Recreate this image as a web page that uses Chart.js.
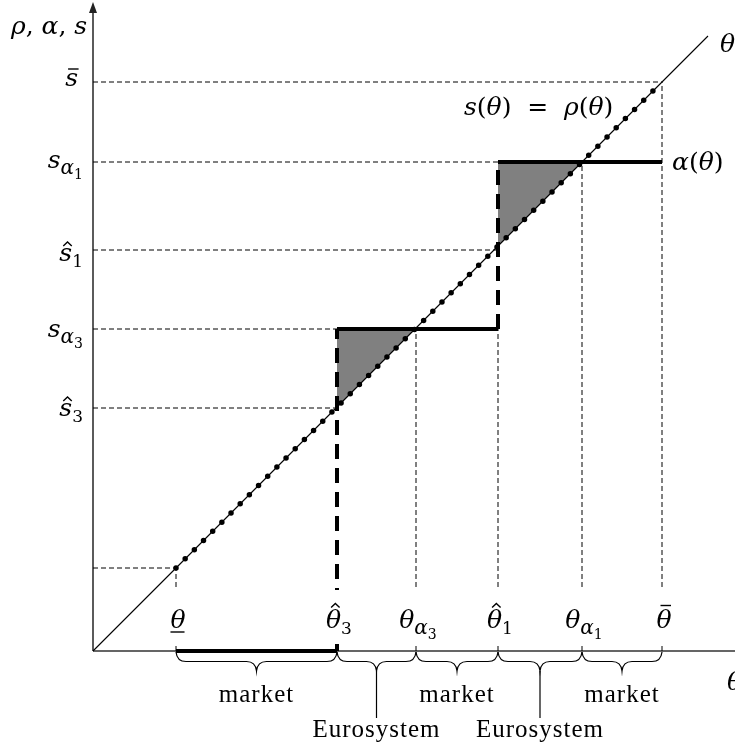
<!DOCTYPE html>
<html>
<head>
<meta charset="utf-8">
<script src="https://cdn.jsdelivr.net/npm/chart.js@4.4.0/dist/chart.umd.min.js"></script>
<style>
html, body { margin: 0; padding: 0; background: #fff; }
canvas { display: block; }
</style>
</head>
<body>
<canvas id="chart" width="735" height="749"></canvas>
<script>
// key points on the theta axis (s and theta share units, 45 degree line)
var thetaTicks = [{b: "θ", m: "under"}, {b: "θ", m: "hat", s: "3"}, {b: "θ", s: "α", ss: "3"},
                  {b: "θ", m: "hat", s: "1"}, {b: "θ", s: "α", ss: "1"}, {b: "θ", m: "bar"}];
var thetaValues = [83, 244, 323, 405, 489, 569];

// levels on the rho / alpha / s axis
var sTicks = [{b: "s", m: "bar"}, {b: "s", s: "α", ss: "1"}, {b: "s", m: "hat", s: "1"},
              {b: "s", s: "α", ss: "3"}, {b: "s", m: "hat", s: "3"}];
var sValues = [569, 489, 401, 322, 243];

// alpha(theta) step function
var alphaX = [83, 244, 244, 405, 405, 569];
var alphaY = [0, 0, 322, 322, 489, 489];

// s(theta) = rho(theta) dotted part and the 45 degree line
var dottedX = [83, 569];
var diagX = [0, 615];

// shaded triangles: from theta-hat up to s_alpha
var shadeFrom = [244, 405];
var shadeTo = [322, 489];

// dashed guides
var hGuideY = [569, 489, 401, 322, 243, 83];
var hGuideEnd = [569, 405, 405, 244, 244, 83];
var vGuideX = [83, 323, 405, 489, 569];
var vGuideTop = [83, 322, 322, 489, 569];

// regions under the theta axis
var regionNames = ["market", "Eurosystem", "market", "Eurosystem", "market"];

var xMax = 642, yMax = 646;
var F = "'Liberation Serif', serif";
var FM = "'DejaVu Serif', serif";
var MATH = 25;

function pts(xs, ys) {
  return xs.map(function (x, i) { return {x: x, y: ys[i]}; });
}

// draw a symbol like theta-hat_3 or s_alpha_1
function drawSym(ctx, sym, x, y, align, box) {
  var fBase = "italic " + MATH + "px " + FM;
  var fSubA = "italic " + Math.round(MATH * 0.78) + "px " + FM;
  var fSubD = Math.round(MATH * 0.68) + "px " + FM;
  var fSS = Math.round(MATH * 0.58) + "px " + FM;
  ctx.font = fBase;
  var wb = ctx.measureText(sym.b).width;
  var ws = 0, wss = 0, subFont = null;
  if (sym.s) { subFont = sym.s === "α" ? fSubA : fSubD; ctx.font = subFont; ws = ctx.measureText(sym.s).width; }
  if (sym.ss) { ctx.font = fSS; wss = ctx.measureText(sym.ss).width; }
  var w = wb + ws + wss;
  var sx = align === "center" ? x - w / 2 : (align === "right" ? x - w : x);
  if (box) {
    ctx.fillStyle = "#fff";
    ctx.fillRect(sx - 3, box[0], w + 6, box[1] - box[0]);
  }
  ctx.fillStyle = "#000";
  ctx.textAlign = "left";
  ctx.textBaseline = "alphabetic";
  ctx.font = fBase;
  ctx.fillText(sym.b, sx, y);
  if (sym.s) { ctx.font = subFont; ctx.fillText(sym.s, sx + wb, y + MATH * 0.24); }
  if (sym.ss) { ctx.font = fSS; ctx.fillText(sym.ss, sx + wb + ws, y + MATH * 0.44); }
  var cx = sx + wb / 2 + MATH * 0.07;
  var top = sym.b === "θ" ? y - MATH * 0.78 : y - MATH * 0.56;
  var hw = MATH * 0.17;
  ctx.strokeStyle = "#000";
  ctx.lineWidth = 1.4;
  ctx.beginPath();
  if (sym.m === "hat") {
    ctx.moveTo(cx - hw, top - 1);
    ctx.lineTo(cx, top - 5);
    ctx.lineTo(cx + hw, top - 1);
  } else if (sym.m === "bar") {
    ctx.moveTo(cx - hw - 1, top - 3);
    ctx.lineTo(cx + hw + 1, top - 3);
  } else if (sym.m === "under") {
    ctx.moveTo(sx, y + 4);
    ctx.lineTo(sx + wb - 1, y + 4);
  }
  ctx.stroke();
}

// text with mixed italic / upright parts
function drawRun(ctx, parts, x, y) {
  ctx.fillStyle = "#000";
  ctx.textAlign = "left";
  ctx.textBaseline = "alphabetic";
  parts.forEach(function (p) {
    ctx.font = (p[1] ? "italic " : "") + MATH + "px " + FM;
    ctx.fillText(p[0], x, y);
    x += ctx.measureText(p[0]).width;
  });
}

function drawBrace(ctx, x1, x2, y, h) {
  var mid = (x1 + x2) / 2, q = h / 2, r = Math.min(10, (x2 - x1) / 4);
  ctx.beginPath();
  ctx.moveTo(x1, y);
  ctx.quadraticCurveTo(x1 + 1, y + q, x1 + r, y + q);
  ctx.lineTo(mid - r, y + q);
  ctx.quadraticCurveTo(mid - 1, y + q, mid, y + h);
  ctx.quadraticCurveTo(mid + 1, y + q, mid + r, y + q);
  ctx.lineTo(x2 - r, y + q);
  ctx.quadraticCurveTo(x2 - 1, y + q, x2, y);
  ctx.stroke();
}

var axesPlugin = {
  id: "axesPlugin",
  beforeDatasetsDraw: function (chart) {
    var ctx = chart.ctx, xs = chart.scales.x, ys = chart.scales.y;
    var x0 = xs.getPixelForValue(0), y0 = ys.getPixelForValue(0);
    ctx.save();
    ctx.strokeStyle = "#333";
    ctx.lineWidth = 1.6;
    ctx.beginPath();
    ctx.moveTo(x0, y0); ctx.lineTo(x0, 10);
    ctx.moveTo(x0, y0); ctx.lineTo(735, y0);
    ctx.stroke();
    ctx.fillStyle = "#222";
    ctx.beginPath();
    ctx.moveTo(x0, 2); ctx.lineTo(x0 - 4, 13); ctx.lineTo(x0 + 4, 13);
    ctx.closePath();
    ctx.fill();
    ctx.restore();
  },
  afterDatasetsDraw: function (chart) {
    var ctx = chart.ctx, xs = chart.scales.x, ys = chart.scales.y;
    var y0 = ys.getPixelForValue(0);
    ctx.save();

    // theta labels above the axis
    thetaTicks.forEach(function (t, i) {
      drawSym(ctx, t, xs.getPixelForValue(thetaValues[i]) + 2, 628, "center", [590, 644]);
    });

    // s labels left of the axis
    var sDy = [4, 6, 11, 8, 8];
    sTicks.forEach(function (t, i) {
      drawSym(ctx, t, t.m === "bar" ? 78 : 83, ys.getPixelForValue(sValues[i]) + sDy[i], "right");
    });

    // axis titles and curve labels
    drawRun(ctx, [["ρ", true], [",", false], [" α", true], [",", false], [" s", true]], 11, 34);
    drawRun(ctx, [["s", true], ["(", false], ["θ", true], [")", false], ["  =  ", false],
                  ["ρ", true], ["(", false], ["θ", true], [")", false]], 464, 115);
    drawRun(ctx, [["α", true], ["(", false], ["θ", true], [")", false]], 672, 170);
    drawRun(ctx, [["θ", true]], 720, 52);
    drawRun(ctx, [["θ", true]], 727, 690);

    // braces and region names
    ctx.strokeStyle = "#000";
    ctx.lineWidth = 1.2;
    ctx.fillStyle = "#000";
    ctx.textAlign = "center";
    ctx.textBaseline = "alphabetic";
    if ("letterSpacing" in ctx) ctx.letterSpacing = "1px";
    regionNames.forEach(function (name, i) {
      var a = xs.getPixelForValue(thetaValues[i]), b = xs.getPixelForValue(thetaValues[i + 1]);
      var mid = (a + b) / 2;
      drawBrace(ctx, a, b, y0 + 1, 19);
      ctx.font = "25px " + F;
      if (name === "market") {
        ctx.fillText(name, mid, 702);
      } else {
        ctx.beginPath();
        ctx.moveTo(mid, y0 + 20);
        ctx.lineTo(mid, 718);
        ctx.stroke();
        ctx.fillText(name, mid, 737);
      }
    });
    ctx.restore();
  }
};

var datasets = [];

// alpha(theta): thick, vertical jumps dashed
datasets.push({
  data: pts(alphaX, alphaY),
  borderColor: "#000",
  borderWidth: 4,
  borderCapStyle: "butt",
  borderJoinStyle: "miter",
  pointRadius: 0,
  clip: false,
  segment: {
    borderDash: function (c) { return c.p0.parsed.x === c.p1.parsed.x ? [15, 9] : undefined; }
  }
});

// s(theta) = rho(theta) dotted
datasets.push({
  data: pts(dottedX, dottedX),
  borderColor: "#000",
  borderWidth: 5.5,
  borderDash: [0, 12.97],
  borderCapStyle: "round",
  pointRadius: 0,
  clip: false
});

// 45 degree line
datasets.push({
  data: pts(diagX, diagX),
  borderColor: "#000",
  borderWidth: 1.1,
  pointRadius: 0,
  clip: false
});

// dashed guides
hGuideY.forEach(function (v, i) {
  datasets.push({
    data: pts([0, hGuideEnd[i]], [v, v]),
    borderColor: "#000", borderWidth: 1, borderDash: [5, 3], pointRadius: 0, clip: false
  });
});
vGuideX.forEach(function (v, i) {
  datasets.push({
    data: pts([v, v], [0, vGuideTop[i]]),
    borderColor: "#000", borderWidth: 1, borderDash: [5, 3], pointRadius: 0, clip: false
  });
});

// shaded triangles between the 45 degree line and s_alpha
shadeFrom.forEach(function (v, i) {
  datasets.push({
    data: pts([v, shadeTo[i]], [v, shadeTo[i]]),
    borderWidth: 0,
    backgroundColor: "#808080",
    fill: {value: shadeTo[i]},
    pointRadius: 0,
    clip: false
  });
});

var chart = new Chart(document.getElementById("chart"), {
  type: "line",
  data: {datasets: datasets},
  options: {
    responsive: false,
    animation: false,
    devicePixelRatio: 1,
    layout: {padding: {left: 93, top: 5, right: 0, bottom: 98}},
    scales: {
      x: {type: "linear", min: 0, max: xMax, display: false},
      y: {type: "linear", min: 0, max: yMax, display: false}
    },
    plugins: {legend: {display: false}, tooltip: {enabled: false}}
  },
  plugins: [axesPlugin]
});
</script>
</body>
</html>
